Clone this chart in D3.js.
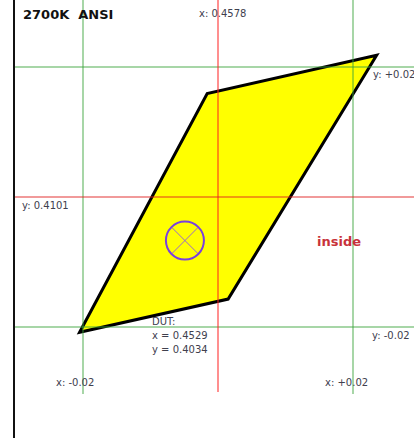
<!DOCTYPE html>
<html>
<head>
<meta charset="utf-8">
<script src="https://cdn.jsdelivr.net/npm/d3@7"></script>
<style>
  body { margin: 0; background: #fff; }
  svg { display: block; }
  text { font-family: "DejaVu Sans", Verdana, sans-serif; }
</style>
</head>
<body>
<div id="chart"></div>
<script>
// ANSI 2700K quadrangle + DUT point
const title = '2700K  ANSI';
const center = [0.4578, 0.4101];
const tolerance = 0.02;
const quadX = [0.4373, 0.4562, 0.4813, 0.4593];
const quadY = [0.3893, 0.4260, 0.4319, 0.3944];
const dut = [0.4529, 0.4034];
const status = 'inside';

const width = 414, height = 438;

const svg = d3.select('#chart').append('svg')
  .attr('width', width)
  .attr('height', height);

const x = d3.scaleLinear()
  .domain([center[0] - tolerance, center[0] + tolerance])
  .range([83, 353]);
const y = d3.scaleLinear()
  .domain([center[1] - tolerance, center[1] + tolerance])
  .range([327, 67]);

// left border
svg.append('line')
  .attr('x1', 14).attr('x2', 14)
  .attr('y1', 0).attr('y2', height)
  .attr('stroke', '#111').attr('stroke-width', 2);

// quadrangle
const pts = quadX.map((d, i) => [x(d), y(quadY[i])]);
svg.append('polygon')
  .attr('points', pts.map(p => p.join(',')).join(' '))
  .attr('fill', '#ffff00')
  .attr('stroke', '#000')
  .attr('stroke-width', 3)
  .attr('stroke-linejoin', 'miter');

// grid lines
const gridX = [center[0] - tolerance, center[0] + tolerance];
const gridY = [center[1] + tolerance, center[1] - tolerance];

svg.selectAll('.gx').data(gridX).enter().append('line')
  .attr('x1', d => x(d)).attr('x2', d => x(d))
  .attr('y1', 0).attr('y2', 394)
  .attr('stroke', '#3aa33a').attr('stroke-width', 1.5).attr('stroke-opacity', 0.6);

svg.selectAll('.gy').data(gridY).enter().append('line')
  .attr('x1', 15).attr('x2', width)
  .attr('y1', d => y(d)).attr('y2', d => y(d))
  .attr('stroke', '#3aa33a').attr('stroke-width', 1.5).attr('stroke-opacity', 0.6);

svg.append('line')
  .attr('x1', x(center[0])).attr('x2', x(center[0]))
  .attr('y1', 0).attr('y2', 392)
  .attr('stroke', '#ff2020').attr('stroke-width', 2).attr('stroke-opacity', 0.5);

svg.append('line')
  .attr('x1', 15).attr('x2', width)
  .attr('y1', y(center[1])).attr('y2', y(center[1]))
  .attr('stroke', '#e02020').attr('stroke-width', 1).attr('stroke-opacity', 0.9);

// DUT marker
const cx = x(dut[0]), cy = y(dut[1]), r = 19;
const k = r * Math.SQRT1_2;
svg.append('line')
  .attr('x1', cx - k).attr('y1', cy - k).attr('x2', cx + k).attr('y2', cy + k)
  .attr('stroke', '#9a66d0').attr('stroke-width', 1);
svg.append('line')
  .attr('x1', cx - k).attr('y1', cy + k).attr('x2', cx + k).attr('y2', cy - k)
  .attr('stroke', '#9a66d0').attr('stroke-width', 1);
svg.append('circle')
  .attr('cx', cx).attr('cy', cy).attr('r', r)
  .attr('fill', 'none')
  .attr('stroke', '#7a3fe0').attr('stroke-width', 2);

// labels
const labelColor = '#40404e';
const fmt = d3.format('.4f');

svg.append('text')
  .attr('x', 23).attr('y', 19)
  .style('white-space', 'pre')
  .attr('font-size', 13).attr('font-weight', 'bold').attr('fill', '#111')
  .text(title);

svg.append('text')
  .attr('x', x(center[0]) - 19).attr('y', 17)
  .attr('font-size', 10).attr('fill', labelColor)
  .text('x: ' + fmt(center[0]));

svg.append('text')
  .attr('x', 22).attr('y', y(center[1]) + 12)
  .attr('font-size', 10).attr('fill', labelColor)
  .text('y: ' + fmt(center[1]));

svg.append('text')
  .attr('x', 373).attr('y', y(gridY[0]) + 11)
  .attr('font-size', 10).attr('fill', labelColor)
  .text('y: +' + tolerance.toFixed(2));

svg.append('text')
  .attr('x', 372).attr('y', y(gridY[1]) + 12)
  .attr('font-size', 10).attr('fill', labelColor)
  .text('y: -' + tolerance.toFixed(2));

svg.append('text')
  .attr('x', x(gridX[0]) - 27).attr('y', 386)
  .attr('font-size', 10).attr('fill', labelColor)
  .text('x: -' + tolerance.toFixed(2));

svg.append('text')
  .attr('x', x(gridX[1]) - 28).attr('y', 386)
  .attr('font-size', 10).attr('fill', labelColor)
  .text('x: +' + tolerance.toFixed(2));

const dutLines = ['DUT:', 'x = ' + fmt(dut[0]), 'y = ' + fmt(dut[1])];
svg.selectAll('.dut').data(dutLines).enter().append('text')
  .attr('x', 152).attr('y', (d, i) => 325 + i * 14)
  .attr('font-size', 10).attr('fill', labelColor)
  .text(d => d);

svg.append('text')
  .attr('x', 317).attr('y', 246)
  .attr('font-size', 13).attr('font-weight', 'bold').attr('fill', '#c8323a')
  .text(status);
</script>
</body>
</html>
